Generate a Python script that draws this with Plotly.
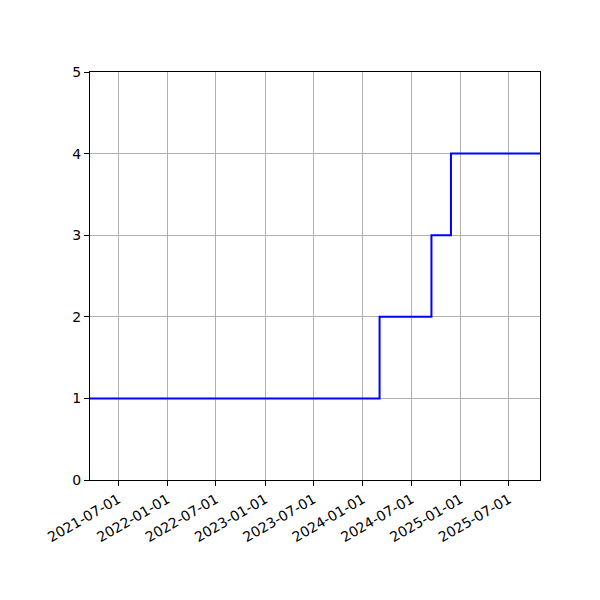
import plotly.graph_objects as go

# change dates and the running count at each one
dates = ["2021-03-17", "2024-03-04", "2024-09-14", "2024-11-26", "2025-10-25"]
counts = [1, 2, 3, 4, 4]

tick_dates = [
    "2021-07-01", "2022-01-01", "2022-07-01", "2023-01-01", "2023-07-01",
    "2024-01-01", "2024-07-01", "2025-01-01", "2025-07-01",
]
y_ticks = [0, 1, 2, 3, 4, 5]

fig = go.Figure()
fig.add_trace(
    go.Scatter(
        x=dates,
        y=counts,
        mode="lines",
        line=dict(color="blue", width=2, shape="hv"),
        showlegend=False,
    )
)

axis_style = dict(
    showline=True,
    linecolor="black",
    linewidth=1,
    mirror=True,
    showgrid=True,
    gridcolor="#b0b0b0",
    gridwidth=1,
    ticks="outside",
    ticklen=5,
    tickcolor="black",
    zeroline=False,
    automargin=False,
)

# page body adds an 8px offset, so margins are shifted to compensate
fig.update_layout(
    width=600,
    height=600,
    margin=dict(l=82, r=68, t=64, b=128),
    paper_bgcolor="white",
    plot_bgcolor="white",
    font=dict(family="DejaVu Sans", size=14, color="black"),
    xaxis=dict(
        type="date",
        range=[dates[0], dates[-1]],
        tickvals=tick_dates,
        ticktext=tick_dates,
        tickangle=-30,
        **axis_style,
    ),
    yaxis=dict(range=[0, 5], tickvals=y_ticks, **axis_style),
)

fig.write_html("out.html")
